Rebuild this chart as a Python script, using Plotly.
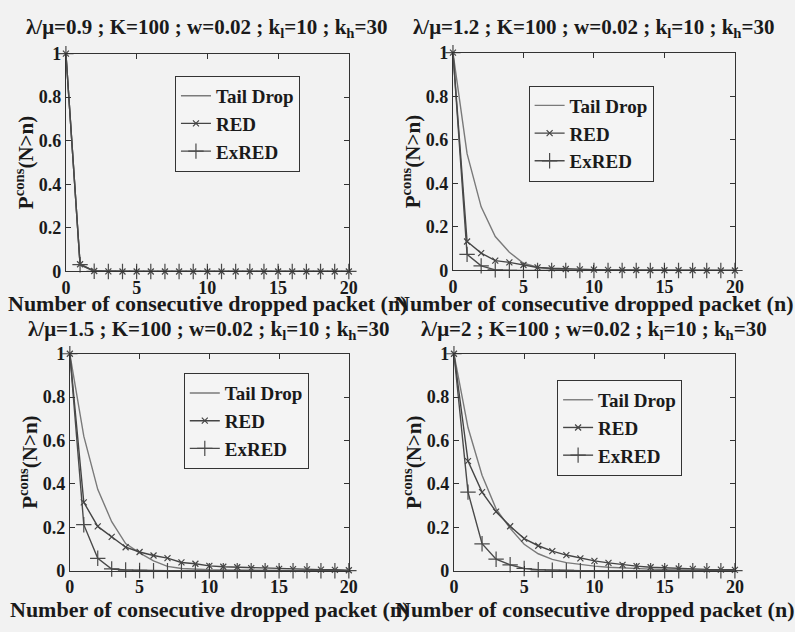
import plotly.graph_objects as go

n = list(range(21))

# lambda/mu = 0.9
tail_09 = [1, 0.035, 0.002, 0.0005, 0, 0, 0, 0, 0, 0, 0, 0, 0, 0, 0, 0, 0, 0, 0, 0, 0]
red_09 = [1, 0.033, 0.002, 0.0005, 0, 0, 0, 0, 0, 0, 0, 0, 0, 0, 0, 0, 0, 0, 0, 0, 0]
exred_09 = [1, 0.031, 0.001, 0, 0, 0, 0, 0, 0, 0, 0, 0, 0, 0, 0, 0, 0, 0, 0, 0, 0]

# lambda/mu = 1.2
tail_12 = [1, 0.536, 0.292, 0.156, 0.084, 0.033, 0.015, 0.007, 0.003, 0.002, 0.001, 0.001, 0, 0, 0, 0, 0, 0, 0, 0, 0]
red_12 = [1, 0.133, 0.08, 0.045, 0.037, 0.025, 0.014, 0.01, 0.007, 0.005, 0.004, 0.003, 0.002, 0.002, 0.001, 0.001, 0.001, 0.001, 0, 0, 0]
exred_12 = [1, 0.074, 0.021, 0.003, 0.001, 0, 0, 0, 0, 0, 0, 0, 0, 0, 0, 0, 0, 0, 0, 0, 0]

# lambda/mu = 1.5
tail_15 = [1, 0.62, 0.375, 0.226, 0.125, 0.082, 0.045, 0.02, 0.01, 0.006, 0.004, 0.003, 0.002, 0.002, 0.001, 0.001, 0.001, 0.001, 0.001, 0, 0]
red_15 = [1, 0.315, 0.204, 0.156, 0.108, 0.086, 0.07, 0.058, 0.038, 0.032, 0.022, 0.018, 0.016, 0.012, 0.01, 0.008, 0.007, 0.006, 0.005, 0.004, 0.002]
exred_15 = [1, 0.212, 0.057, 0.008, 0.003, 0.001, 0, 0, 0, 0, 0, 0, 0, 0, 0, 0, 0, 0, 0, 0, 0]

# lambda/mu = 2
tail_2 = [1, 0.66, 0.44, 0.285, 0.195, 0.122, 0.078, 0.052, 0.037, 0.028, 0.021, 0.016, 0.012, 0.009, 0.007, 0.005, 0.004, 0.003, 0.002, 0.002, 0.001]
red_2 = [1, 0.505, 0.362, 0.272, 0.205, 0.148, 0.115, 0.09, 0.072, 0.057, 0.045, 0.036, 0.027, 0.021, 0.016, 0.013, 0.01, 0.008, 0.006, 0.005, 0.004]
exred_2 = [1, 0.362, 0.124, 0.053, 0.027, 0.01, 0.004, 0.002, 0.001, 0, 0, 0, 0, 0, 0, 0, 0, 0, 0, 0, 0]

ratios = ["0.9", "1.2", "1.5", "2"]
panels = [(tail_09, red_09, exred_09), (tail_12, red_12, exred_12),
          (tail_15, red_15, exred_15), (tail_2, red_2, exred_2)]
series_names = ["Tail Drop", "RED", "ExRED"]
x_ticks = [0, 5, 10, 15, 20]
y_ticks = [0, 0.2, 0.4, 0.6, 0.8, 1]
x_title = "Number of consecutive dropped packet (n)"
y_title = "P<sup>cons</sup>(N>n)"

W, H = 795, 632
# plot areas in pixels: (x0, x1, ytop, ybottom)
areas = [(62, 350, 45, 270), (456, 743, 44, 269), (66, 350, 355, 579), (457, 743, 355, 579)]
legend_pos = [(173, 68), (533, 78), (182, 375), (562, 382)]
title_y = [19, 19, 330, 330]
xt_y = [303, 303, 619, 619]

FONT = "Liberation Serif"
colors = ["#7a7a7a", "#454545", "#4a4a4a"]
symbols = [None, "x-thin", "cross-thin"]
msizes = [0, 6, 11]

fig = go.Figure()
layout = dict(width=W, height=H, margin=dict(l=0, r=0, t=0, b=0),
              paper_bgcolor="#f2f2f2", plot_bgcolor="#f2f2f2",
              font=dict(family=FONT, size=18, color="#1a1a1a", weight="bold"),
              annotations=[])

for i, (vals, ratio) in enumerate(zip(panels, ratios)):
    ax = "" if i == 0 else str(i + 1)
    lg = "legend" if i == 0 else f"legend{i + 1}"
    x0, x1, yt, yb = areas[i]
    for j, (name, v) in enumerate(zip(series_names, vals)):
        mode = "lines" if j == 0 else "lines+markers"
        fig.add_trace(go.Scatter(
            x=n, y=v, name=name, mode=mode, xaxis="x" + ax, yaxis="y" + ax,
            legend=lg, cliponaxis=False,
            line=dict(color=colors[j], width=1.4),
            marker=dict(symbol=symbols[j] or "circle", size=msizes[j],
                        color=colors[j], line=dict(color=colors[j], width=1.2)),
        ))
    axcommon = dict(showline=True, linecolor="#333333", linewidth=1.2, mirror="ticks",
                    ticks="inside", ticklen=5, tickcolor="#333333", showgrid=False,
                    zeroline=False, tickfont=dict(size=18, family=FONT, weight="bold"))
    layout["xaxis" + ax] = dict(axcommon, domain=[x0 / W, x1 / W], range=[0, 20],
                                tickvals=x_ticks, anchor="y" + ax)
    layout["yaxis" + ax] = dict(axcommon, domain=[1 - yb / H, 1 - yt / H], range=[0, 1],
                                tickvals=y_ticks, ticktext=["0", "0.2", "0.4", "0.6", "0.8", "1"],
                                anchor="x" + ax)
    lx, ly = legend_pos[i]
    layout[lg] = dict(x=lx / W, y=1 - ly / H, xanchor="left", yanchor="top",
                      bgcolor="#f4f4f4", bordercolor="#333333", borderwidth=1,
                      entrywidth=100, entrywidthmode="pixels",
                      font=dict(size=19, family=FONT, weight="bold"), tracegroupgap=0)
    cx = (x0 + x1) / 2
    layout["annotations"].append(dict(
        text=f"λ/μ={ratio} ; K=100 ; w=0.02 ; k<sub>l</sub>=10 ; k<sub>h</sub>=30",
        x=cx / W, y=1 - title_y[i] / H, xref="paper", yref="paper", showarrow=False,
        xanchor="center", yanchor="middle", font=dict(size=21, family=FONT, weight="bold")))
    layout["annotations"].append(dict(
        text=x_title, x=cx / W, y=1 - xt_y[i] / H, xref="paper", yref="paper",
        showarrow=False, xanchor="center", yanchor="middle",
        font=dict(size=22, family=FONT, weight="bold")))
    layout["annotations"].append(dict(
        text=y_title, x=x0 / W - 42 / W, y=1 - (yt + yb) / 2 / H, xref="paper", yref="paper",
        showarrow=False, xanchor="center", yanchor="middle", textangle=-90,
        font=dict(size=21, family=FONT, weight="bold")))

fig.update_layout(**layout)
fig.write_html("out.html")
